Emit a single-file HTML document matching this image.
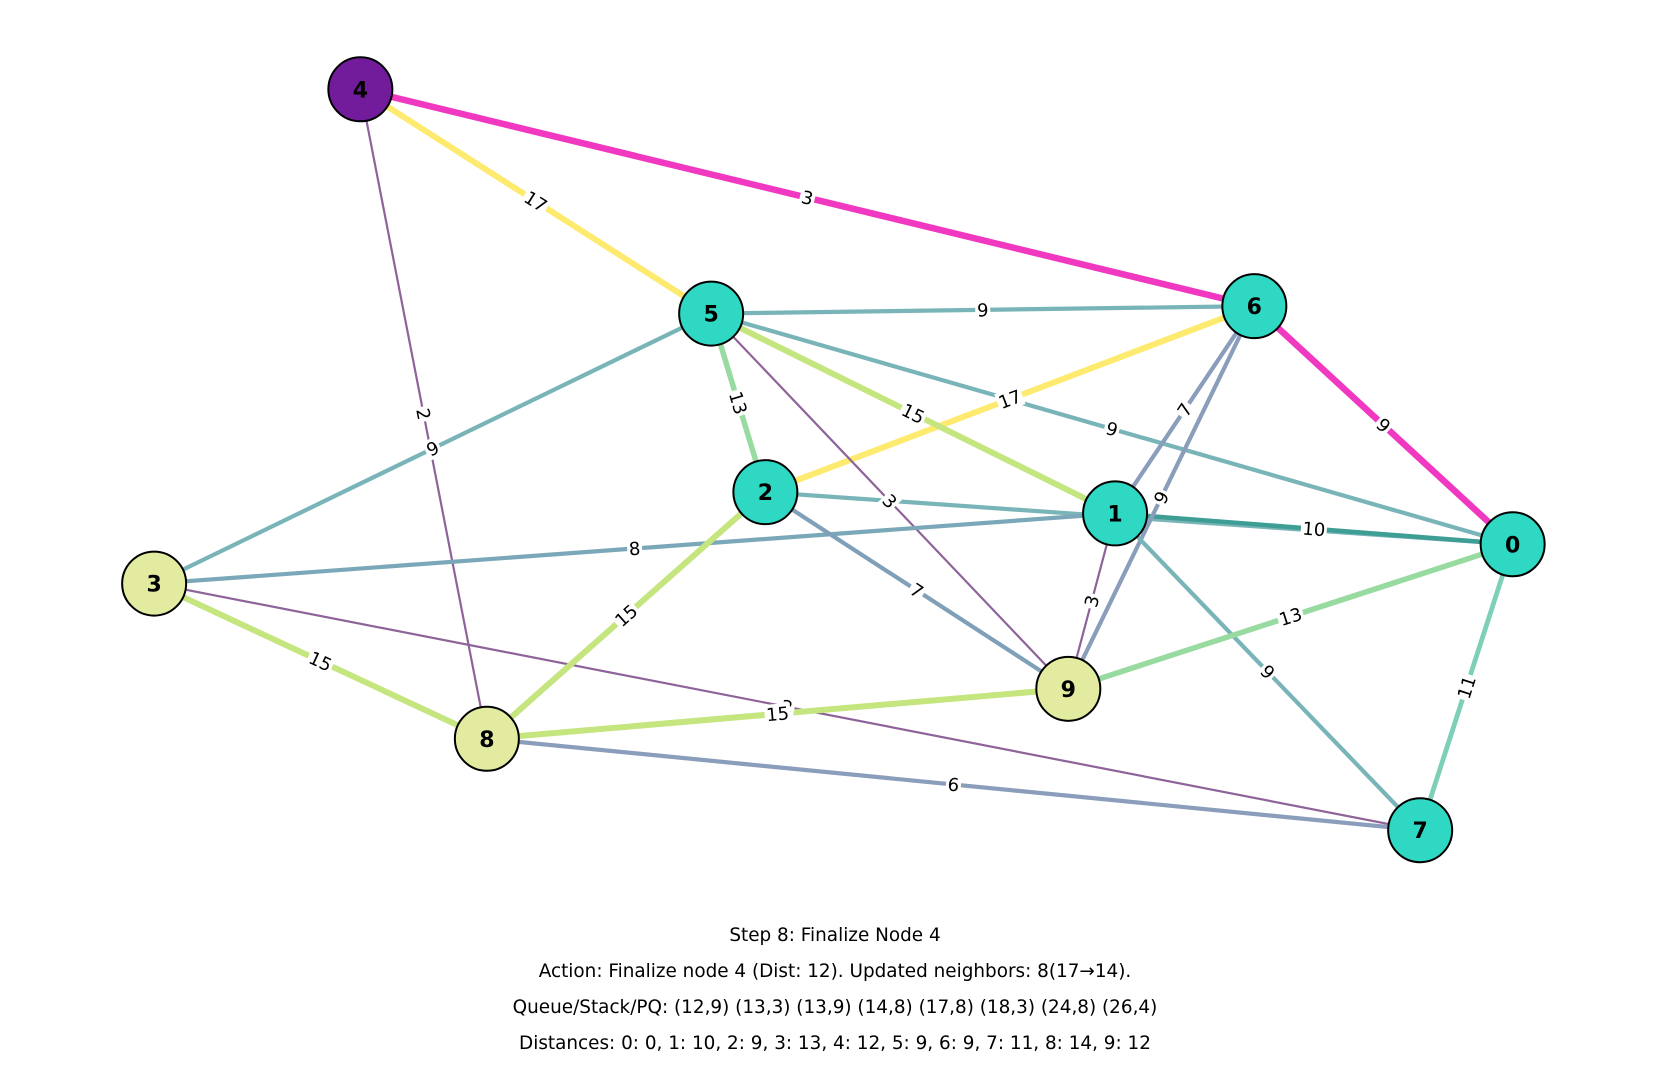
<!DOCTYPE html>
<html><head><meta charset="utf-8"><style>
html,body{margin:0;padding:0;background:#fff;}
svg text{font-family:"DejaVu Sans","Liberation Sans",sans-serif;}
</style></head><body>
<svg id="chart" width="1667" height="1064" viewBox="0 0 1667 1064" xmlns="http://www.w3.org/2000/svg">
<g id="edges"></g>
<g id="elabels"></g>
<g id="nodes"></g>
<g font-size="18.4" text-anchor="middle" fill="#000">
<text x="835" y="941">Step 8: Finalize Node 4</text>
<text x="835" y="977">Action: Finalize node 4 (Dist: 12). Updated neighbors: 8(17→14).</text>
<text x="835" y="1013">Queue/Stack/PQ: (12,9) (13,3) (13,9) (14,8) (17,8) (18,3) (24,8) (26,4)</text>
<text x="835" y="1049">Distances: 0: 0, 1: 10, 2: 9, 3: 13, 4: 12, 5: 9, 6: 9, 7: 11, 8: 14, 9: 12</text>
</g>
</svg>
<script>
const nodeIds=[0,1,2,3,4,5,6,7,8,9];
const nodeX=[1423,1049,720,145,339,669,1180,1336,458,1005];
const nodeY=[512,483,463,549,84,295,288,781,695,648];
const nodeColors=["#2ed8c3","#2ed8c3","#2ed8c3","#e3eba0","#721c9c","#2ed8c3","#2ed8c3","#2ed8c3","#e3eba0","#e3eba0"];
const edgeFrom=[4,6,4,6,4,5,5,5,5,5,2,1,6,1,1,0,0,3,3,3,8,8,8,2,3,1];
const edgeTo=[6,0,5,2,8,6,0,1,2,9,0,0,9,9,7,9,7,1,8,7,2,9,7,9,5,6];
const edgeWeights=["3","9","17","17","2","9","9","15","13","3","","10","9","3","9","13","11","8","15","2","15","15","6","7","9","7"];
const edgeColors=["#f038c0","#f038c0","#fdea6f","#fdea6f","#8e6399","#78b4b8","#78b4b8","#c5e57e","#98dba0","#8e6399","#78b4b8","#3e9e96","#8a9dbb","#8e6399","#78b4b8","#98dba0","#7ecfb8","#7aa8b8","#c5e57e","#8e6399","#c5e57e","#c5e57e","#8a9dbb","#7fa0b8","#78b4b8","#8a9dbb"];
const edgeWidths=[6.5,6.5,6,6,2.2,4.2,4.2,6,5.5,2.2,4.2,4.5,4.2,2.2,4.2,5.5,4.8,4.2,6,2.2,6,6,4.2,4.2,4.2,4.2];
const S=1.063;
const NS="http://www.w3.org/2000/svg";
const px=i=>nodeX[i]*S, py=i=>nodeY[i]*S;
const eg=document.getElementById('edges'), lg=document.getElementById('elabels'), ng=document.getElementById('nodes');
for(let k=0;k<edgeFrom.length;k++){
  const a=edgeFrom[k], b=edgeTo[k];
  const l=document.createElementNS(NS,'line');
  
  
  l.setAttribute('x1',px(a));l.setAttribute('y1',py(a));l.setAttribute('x2',px(b));l.setAttribute('y2',py(b));
  l.setAttribute('stroke',edgeColors[k]);l.setAttribute('stroke-width',edgeWidths[k]);
  eg.appendChild(l);
  if(edgeWeights[k]==='')continue;
  const mx=(px(a)+px(b))/2, my=(py(a)+py(b))/2;
  let ang=Math.atan2(py(b)-py(a),px(b)-px(a))*180/Math.PI;
  if(ang>90)ang-=180; if(ang<-90)ang+=180;
  const g=document.createElementNS(NS,'g');
  
  
  g.setAttribute('transform','translate('+mx+','+my+') rotate('+ang+')');
  const w=edgeWeights[k].length*11+4;
  const r=document.createElementNS(NS,'rect');
  r.setAttribute('x',-w/2);r.setAttribute('y',-10);r.setAttribute('width',w);r.setAttribute('height',20);r.setAttribute('fill','#fff');
  g.appendChild(r);
  const t=document.createElementNS(NS,'text');
  t.setAttribute('text-anchor','middle');t.setAttribute('y',6.5);t.setAttribute('font-size','18');
  t.textContent=edgeWeights[k];
  g.appendChild(t);
  lg.appendChild(g);
}
for(let i=0;i<nodeIds.length;i++){
  const g=document.createElementNS(NS,'g');
  
  
  const c=document.createElementNS(NS,'circle');
  c.setAttribute('cx',px(i));c.setAttribute('cy',py(i));c.setAttribute('r',32);
  c.setAttribute('fill',nodeColors[i]);c.setAttribute('stroke','#000');c.setAttribute('stroke-width',2);
  g.appendChild(c);
  const t=document.createElementNS(NS,'text');
  t.setAttribute('x',px(i));t.setAttribute('y',py(i)+8);t.setAttribute('text-anchor','middle');
  t.setAttribute('font-size','22');t.setAttribute('font-weight','bold');
  t.textContent=nodeIds[i];
  g.appendChild(t);
  ng.appendChild(g);
}
</script>
</body></html>
